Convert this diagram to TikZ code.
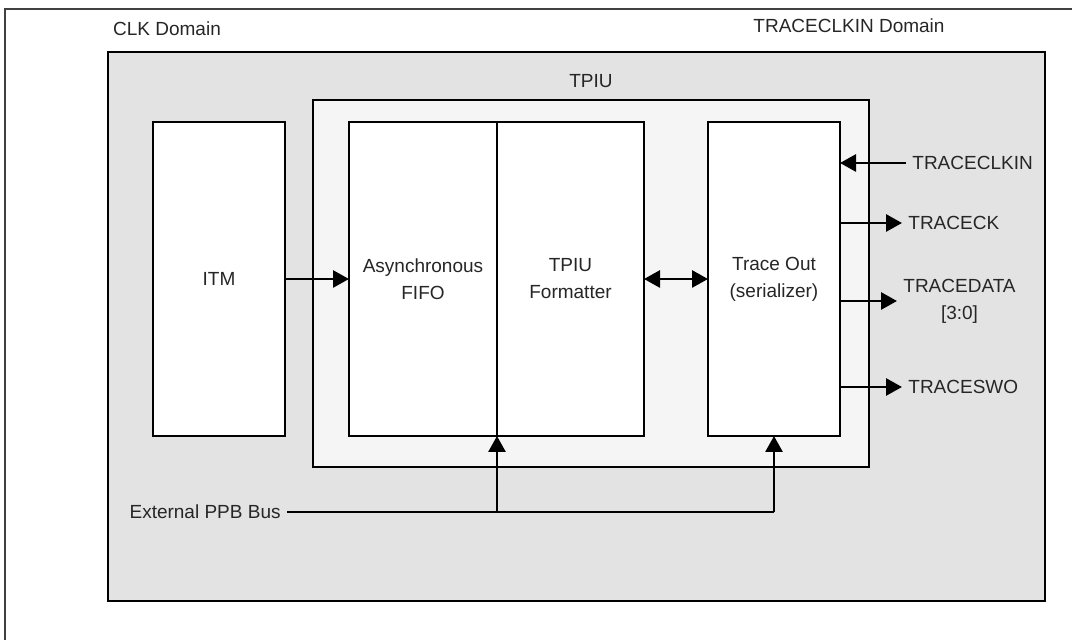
\documentclass[tikz,border=0pt]{standalone}
\usepackage{fontspec}
\setmainfont{Liberation Sans}
\usetikzlibrary{positioning,arrows.meta}

\begin{document}
\begin{tikzpicture}[x=0.5pt,y=-0.5pt,
			>={Triangle[length=8pt,width=8.5pt]},
			every node/.style={
				font=\fontsize{9.5}{13.5}\selectfont,
				text=black!85,
				align=center
			},
			domainbox/.style={draw,line width=1.4pt,fill=black!11,
				minimum width=468.5pt,minimum height=274.5pt},
			tpiubox/.style={draw,line width=0.6pt,fill=black!4,
				minimum width=278pt,minimum height=183.5pt},
			block/.style={draw,line width=1.4pt,fill=white,outer sep=0pt,
				minimum height=157pt},
			sig/.style={anchor=west,inner sep=3pt},
			wire/.style={line width=1.4pt}]
			
			\useasboundingbox (0,0) rectangle (1072,640);
			
			\draw[line width=0.8pt,black!75](5,640)--(5,9)--(1072,9);
			
			\node (clklbl) at (167,29){CLK Domain};
			
			\node (tclklbl) at (849,26){TRACECLKIN Domain};
			
			\node (clkdom)[domainbox] at (576.5,326.5){};
			
			\node (tpiu)[tpiubox] at (591,283.5){};
			
			\node (tpiulbl) at (591,81){TPIU};
			
			\node (itm)[block,minimum width=66pt] at (219,279){ITM};
			
			\node (fifo)[block,minimum width=74pt] at (423,279){Asynchronous\\FIFO};
			
			\node (fmt)[block,minimum width=73.5pt,right=0pt of fifo]{TPIU\\Formatter};
			
			\node (traceout)[block,minimum width=66pt] at (774,279){Trace Out\\(serializer)};
			
			\node (clkin)[sig] at (906,163){TRACECLKIN};
			
			\node (ck)[sig] at (902,223){TRACECK};
			
			\node (data)[sig] at (897,301){TRACEDATA\\{}[3:0]};
			
			\node (swo)[sig] at (902,387){TRACESWO};
			
			\node (ppb)[anchor=east,inner sep=3pt] at (287,512){External PPB Bus};
			
			\draw[wire,->](itm)--(fifo);
			
			\draw[wire,<->](fmt)--(traceout);
			
			\draw[wire,->](clkin.west)--(traceout.east |- clkin.west);
			
			\draw[wire,->](traceout.east |- ck.west)--(ck.west);
			
			\draw[wire,->](traceout.east |- data.west)--(data.west);
			
			\draw[wire,->](traceout.east |- swo.west)--(swo.west);
			
			\draw[wire](ppb.east)--(traceout.south |- ppb.east);
			
			\draw[wire,->](fifo.south east |- ppb.east)--(fifo.south east);
			
			\draw[wire,->](traceout.south |- ppb.east)--(traceout.south);
			
		\end{tikzpicture}
\end{document}
